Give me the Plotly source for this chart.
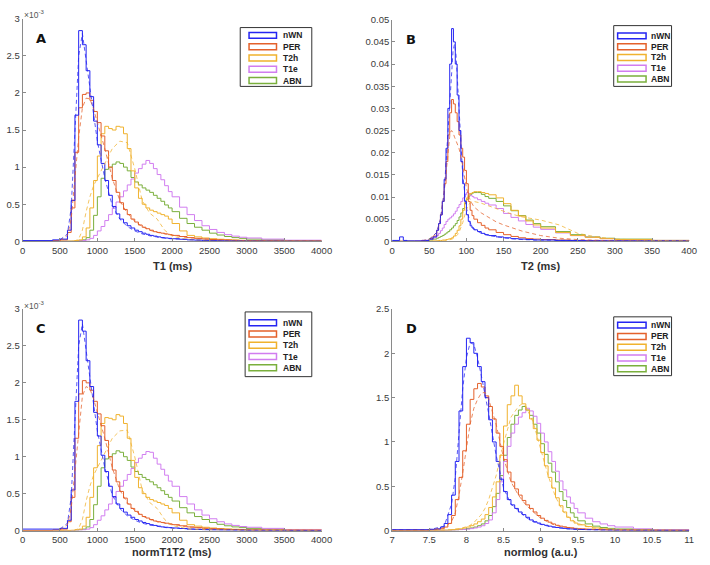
import plotly.graph_objects as go

W, H = 710, 565
SERIES = ["nWN", "PER", "T2h", "T1e", "ABN"]
COLORS = {"nWN": "#2424f2", "PER": "#e4612b", "T2h": "#f0b22e", "T1e": "#d17df0", "ABN": "#7aaf3c"}

# ---------------- Panel A : T1 (ms), density x10^-3 ----------------
t1_bins = [0, 400, 500, 600, 650, 700, 750, 800, 850, 900, 950, 1000, 1050, 1100, 1150, 1200,
           1250, 1300, 1350, 1400, 1450, 1500, 1550, 1600, 1650, 1700, 1750, 1800, 1850, 1900,
           1950, 2000, 2100, 2200, 2300, 2400, 2500, 2600, 2700, 2800, 2900, 3000, 3200, 3500, 4000]
t1_nwn = [0.01, 0.02, 0.03, 0.15, 0.55, 1.7, 2.84, 2.65, 2.3, 1.95, 1.62, 1.3, 1.05, 0.82, 0.62, 0.47,
          0.37, 0.3, 0.25, 0.21, 0.18, 0.15, 0.13, 0.11, 0.095, 0.08, 0.07, 0.06, 0.05, 0.045,
          0.04, 0.035, 0.028, 0.02, 0.016, 0.012, 0.01, 0.008, 0.006, 0.005, 0.004, 0.003, 0.002, 0.001, 0.001]
t1_per = [0.0, 0.01, 0.02, 0.12, 0.45, 1.2, 1.8, 1.98, 2.0, 1.9, 1.75, 1.6, 1.42, 1.22, 1.0, 0.82,
          0.66, 0.52, 0.43, 0.36, 0.3, 0.26, 0.22, 0.19, 0.17, 0.15, 0.13, 0.12, 0.11, 0.1,
          0.09, 0.08, 0.065, 0.05, 0.04, 0.032, 0.025, 0.02, 0.016, 0.013, 0.01, 0.008, 0.006, 0.004, 0.002]
t1_t2h = [0, 0, 0, 0, 0.005, 0.01, 0.02, 0.06, 0.18, 0.45, 0.82, 1.15, 1.45, 1.55, 1.52, 1.5,
          1.55, 1.54, 1.45, 1.25, 0.95, 0.72, 0.58, 0.5, 0.45, 0.42, 0.4, 0.38, 0.36, 0.34,
          0.3, 0.24, 0.14, 0.08, 0.06, 0.045, 0.035, 0.028, 0.022, 0.018, 0.014, 0.01, 0.008, 0.005, 0.003]
t1_t1e = [0, 0, 0, 0, 0, 0.005, 0.008, 0.01, 0.02, 0.04, 0.08, 0.14, 0.2, 0.28, 0.36, 0.45,
          0.53, 0.6, 0.68, 0.76, 0.84, 0.92, 0.98, 1.04, 1.09, 1.05, 0.98, 0.9, 0.83, 0.75,
          0.67, 0.6, 0.46, 0.36, 0.28, 0.21, 0.16, 0.12, 0.09, 0.07, 0.055, 0.045, 0.03, 0.015, 0.005]
t1_abn = [0, 0, 0, 0, 0, 0.005, 0.01, 0.02, 0.05, 0.15, 0.35, 0.6, 0.85, 0.97, 1.0, 1.04,
          1.07, 1.05, 1.0, 0.95, 0.86, 0.8, 0.76, 0.72, 0.69, 0.66, 0.62, 0.58, 0.54, 0.49,
          0.45, 0.4, 0.31, 0.24, 0.19, 0.15, 0.11, 0.085, 0.065, 0.05, 0.04, 0.03, 0.02, 0.01, 0.005]
t1_fit_x = [500, 600, 650, 700, 750, 800, 850, 900, 950, 1000, 1100, 1200, 1300, 1400, 1500, 1600,
            1700, 1800, 1900, 2000, 2200, 2500, 3000, 4000]
t1_nwn_fit = [0.02, 0.1, 0.45, 1.4, 2.5, 2.8, 2.45, 2.05, 1.7, 1.35, 0.85, 0.48, 0.3, 0.2, 0.14, 0.1,
              0.075, 0.055, 0.042, 0.033, 0.02, 0.01, 0.004, 0.001]
t1_per_fit = [0.01, 0.08, 0.3, 0.8, 1.4, 1.8, 1.93, 1.92, 1.78, 1.6, 1.25, 0.85, 0.55, 0.38, 0.27, 0.2,
              0.15, 0.12, 0.1, 0.08, 0.05, 0.025, 0.008, 0.002]
t1_t2h_fit = [0, 0, 0, 0.005, 0.03, 0.15, 0.4, 0.6, 0.75, 0.85, 1.05, 1.25, 1.35, 1.33, 0.98, 0.55,
              0.38, 0.3, 0.15, 0.07, 0.025, 0.01, 0.004, 0.001]

# ---------------- Panel B : T2 (ms) ----------------
t2_bins = [0, 10, 15, 20, 30, 40, 50, 55, 60, 62.5, 65, 67.5, 70, 72.5, 75, 77.5, 80, 82.5, 85,
           87.5, 90, 92.5, 95, 97.5, 100, 102.5, 105, 107.5, 110, 115, 120, 125, 130, 140, 150,
           160, 170, 180, 190, 200, 220, 240, 260, 280, 300, 350, 400]
t2_nwn = [0.0002, 0.001, 0.0002, 0.0001, 0.0001, 0.0002, 0.0005, 0.001, 0.0025,
          0.004, 0.006, 0.009, 0.014, 0.021, 0.03, 0.04, 0.048, 0.045, 0.04,
          0.033, 0.025, 0.018, 0.013, 0.009, 0.006, 0.0045, 0.0035, 0.003, 0.0026,
          0.0022, 0.0018, 0.0015, 0.0013, 0.001, 0.0008, 0.0006, 0.0005, 0.0004, 0.0003, 0.0003,
          0.0002, 0.0002, 0.0001, 0.0001, 0.0001, 0.0001, 0.0001]
t2_per = [0, 0, 0, 0, 0, 0.0002, 0.0006, 0.0012, 0.0025,
          0.004, 0.006, 0.009, 0.013, 0.018, 0.024, 0.029, 0.032, 0.031, 0.029,
          0.027, 0.024, 0.021, 0.019, 0.016, 0.013, 0.009, 0.007, 0.0058, 0.005,
          0.0042, 0.0036, 0.003, 0.0026, 0.002, 0.0015, 0.0011, 0.0008, 0.0006, 0.0005, 0.0004,
          0.0003, 0.0002, 0.0002, 0.0001, 0.0001, 0.0001, 0.0001]
t2_t2h = [0, 0, 0, 0, 0, 0, 0, 0.0001, 0.0001,
          0.0002, 0.0002, 0.0003, 0.0003, 0.0004, 0.0005, 0.0006, 0.0008, 0.0012, 0.0018,
          0.0025, 0.0035, 0.005, 0.007, 0.0088, 0.0098, 0.0105, 0.0108, 0.011, 0.0112,
          0.0112, 0.011, 0.0108, 0.0105, 0.0098, 0.0085, 0.007, 0.0057, 0.0046, 0.0037, 0.003,
          0.002, 0.0013, 0.0009, 0.0006, 0.0004, 0.0002, 0.0001]
t2_t1e = [0, 0, 0, 0, 0.0001, 0.0002, 0.0005, 0.0008, 0.0013,
          0.0018, 0.0024, 0.003, 0.0038, 0.0045, 0.005, 0.0053, 0.0057, 0.0062, 0.0068,
          0.0076, 0.0083, 0.009, 0.0098, 0.0105, 0.011, 0.0108, 0.0104, 0.0101, 0.0098,
          0.0094, 0.009, 0.0086, 0.0082, 0.0074, 0.0063, 0.0054, 0.0046, 0.0038, 0.0032, 0.0027,
          0.0019, 0.0013, 0.0009, 0.0006, 0.0004, 0.0002, 0.0001]
t2_abn = [0, 0, 0, 0, 0, 0.0001, 0.0003, 0.0005, 0.0007,
          0.0009, 0.0011, 0.0013, 0.0016, 0.0019, 0.0022, 0.0026, 0.003, 0.0035, 0.004,
          0.0047, 0.0055, 0.0064, 0.0074, 0.0085, 0.0095, 0.0102, 0.0106, 0.0109, 0.011,
          0.011, 0.0106, 0.0101, 0.0097, 0.009, 0.008, 0.0069, 0.0058, 0.0048, 0.004, 0.0033,
          0.0022, 0.0015, 0.001, 0.0007, 0.0005, 0.0002, 0.0001]
t2_fit_x = [40, 50, 60, 65, 70, 75, 78, 80, 82, 84, 86, 88, 90, 95, 100, 105, 110, 120, 130, 140,
            150, 160, 175, 200, 225, 250, 275, 300, 350, 400]
t2_nwn_fit = [0.0001, 0.0004, 0.002, 0.005, 0.011, 0.024, 0.033, 0.039, 0.043, 0.0445,
              0.042, 0.036, 0.029, 0.015, 0.0075, 0.0042, 0.0028, 0.0018, 0.0013, 0.001,
              0.0008, 0.0006, 0.0004, 0.0003, 0.0002, 0.0001, 0.0001, 0.0001, 0, 0]
t2_per_fit = [0.0001, 0.0005, 0.002, 0.005, 0.011, 0.02, 0.0245, 0.025, 0.0245, 0.0235,
              0.0225, 0.022, 0.021, 0.017, 0.012, 0.0093, 0.0078, 0.0064, 0.0053, 0.0044,
              0.0037, 0.0031, 0.0023, 0.0013, 0.0007, 0.0004, 0.0002, 0.0001, 0, 0]
t2_t2h_fit = [0, 0, 0, 0, 0.0001, 0.0002, 0.0003, 0.0004, 0.0006, 0.0008,
              0.0011, 0.0015, 0.002, 0.0042, 0.0072, 0.0088, 0.009, 0.0086, 0.008, 0.0074,
              0.0068, 0.0062, 0.0055, 0.0048, 0.0037, 0.0018, 0.001, 0.0005, 0.0002, 0.0001]

# ---------------- Panel C : normT1T2 (ms), density x10^-3 ----------------
nt_bins = t1_bins
nt_nwn = [0.02, 0.02, 0.03, 0.14, 0.55, 1.75, 2.85, 2.7, 2.3, 1.95, 1.6, 1.28, 1.02, 0.8, 0.6, 0.46,
          0.36, 0.3, 0.25, 0.21, 0.18, 0.15, 0.13, 0.11, 0.095, 0.08, 0.07, 0.06, 0.05, 0.045,
          0.04, 0.035, 0.028, 0.02, 0.016, 0.012, 0.01, 0.008, 0.006, 0.005, 0.004, 0.003, 0.002, 0.001, 0.001]
nt_per = [0.0, 0.01, 0.02, 0.12, 0.45, 1.25, 1.85, 2.03, 2.0, 1.9, 1.75, 1.58, 1.42, 1.22, 1.0, 0.82,
          0.66, 0.53, 0.44, 0.36, 0.3, 0.26, 0.22, 0.19, 0.17, 0.15, 0.13, 0.12, 0.11, 0.1,
          0.09, 0.08, 0.065, 0.05, 0.04, 0.032, 0.025, 0.02, 0.016, 0.013, 0.01, 0.008, 0.006, 0.004, 0.002]
nt_t2h = [0, 0, 0, 0, 0.005, 0.01, 0.02, 0.06, 0.18, 0.45, 0.85, 1.15, 1.45, 1.53, 1.52, 1.5,
          1.57, 1.55, 1.45, 1.25, 0.95, 0.72, 0.58, 0.5, 0.45, 0.42, 0.4, 0.38, 0.36, 0.34,
          0.3, 0.24, 0.14, 0.08, 0.06, 0.045, 0.035, 0.028, 0.022, 0.018, 0.014, 0.01, 0.008, 0.005, 0.003]
nt_t1e = [0, 0, 0, 0, 0, 0.005, 0.008, 0.01, 0.02, 0.04, 0.08, 0.14, 0.2, 0.28, 0.36, 0.45,
          0.53, 0.6, 0.68, 0.76, 0.84, 0.92, 0.98, 1.03, 1.07, 1.06, 0.98, 0.9, 0.83, 0.75,
          0.67, 0.6, 0.46, 0.36, 0.28, 0.21, 0.16, 0.12, 0.09, 0.07, 0.055, 0.045, 0.03, 0.015, 0.005]
nt_abn = [0, 0, 0, 0, 0, 0.005, 0.01, 0.02, 0.05, 0.15, 0.35, 0.6, 0.85, 0.97, 1.0, 1.04,
          1.08, 1.06, 1.0, 0.95, 0.86, 0.8, 0.76, 0.72, 0.69, 0.66, 0.62, 0.58, 0.54, 0.49,
          0.45, 0.4, 0.31, 0.24, 0.19, 0.15, 0.11, 0.085, 0.065, 0.05, 0.04, 0.03, 0.02, 0.01, 0.005]
nt_fit_x = t1_fit_x
nt_nwn_fit = [0.02, 0.1, 0.45, 1.4, 2.5, 2.8, 2.45, 2.05, 1.7, 1.35, 0.85, 0.48, 0.3, 0.2, 0.14, 0.1,
              0.075, 0.055, 0.042, 0.033, 0.02, 0.01, 0.004, 0.001]
nt_per_fit = [0.01, 0.08, 0.3, 0.8, 1.4, 1.82, 1.95, 1.92, 1.78, 1.6, 1.25, 0.85, 0.55, 0.38, 0.27, 0.2,
              0.15, 0.12, 0.1, 0.08, 0.05, 0.025, 0.008, 0.002]
nt_t2h_fit = [0, 0, 0, 0.005, 0.03, 0.15, 0.4, 0.6, 0.75, 0.85, 1.05, 1.25, 1.35, 1.36, 1.0, 0.55,
              0.38, 0.3, 0.15, 0.07, 0.025, 0.01, 0.004, 0.001]

# ---------------- Panel D : normlog (a.u.) ----------------
nl_bins = [7.0, 7.5, 7.6, 7.65, 7.7, 7.75, 7.8, 7.85, 7.9, 7.95, 8.0, 8.05, 8.1, 8.15, 8.2, 8.25,
           8.3, 8.35, 8.4, 8.45, 8.5, 8.55, 8.6, 8.65, 8.7, 8.75, 8.8, 8.85, 8.9, 8.95, 9.0, 9.05,
           9.1, 9.15, 9.2, 9.25, 9.3, 9.35, 9.4, 9.45, 9.5, 9.6, 9.7, 9.8, 9.9, 10.0, 10.25, 10.5, 11.0]
nl_nwn = [0.01, 0.015, 0.02,
          0.04, 0.08, 0.18, 0.4, 0.78, 1.35, 1.85, 2.17, 2.12, 2.0,
          1.85, 1.68, 1.5, 1.25, 1.0, 0.78, 0.58, 0.44, 0.35, 0.29,
          0.25, 0.21, 0.18, 0.15, 0.12, 0.1, 0.085, 0.07, 0.06, 0.05,
          0.04, 0.035, 0.03, 0.025, 0.02, 0.018, 0.015, 0.012,
          0.01, 0.008, 0.006, 0.005, 0.004, 0.003, 0.002, 0.001]
nl_per = [0.005, 0.01, 0.015,
          0.02, 0.04, 0.08, 0.17, 0.35, 0.6, 0.9, 1.2, 1.48, 1.6,
          1.66, 1.62, 1.52, 1.4, 1.26, 1.1, 0.95, 0.8, 0.66, 0.55,
          0.47, 0.4, 0.34, 0.29, 0.25, 0.21, 0.17, 0.14, 0.115, 0.095,
          0.075, 0.06, 0.05, 0.042, 0.035, 0.03, 0.025, 0.02,
          0.016, 0.012, 0.009, 0.007, 0.005, 0.003, 0.002, 0.001]
nl_t2h = [0, 0, 0,
          0.002, 0.004, 0.006, 0.01, 0.015, 0.02, 0.03, 0.04, 0.055, 0.075,
          0.1, 0.13, 0.18, 0.26, 0.38, 0.55, 0.85, 1.18, 1.42, 1.52,
          1.64, 1.52, 1.43, 1.36, 1.26, 1.15, 1.02, 0.88, 0.73, 0.6,
          0.48, 0.37, 0.28, 0.21, 0.15, 0.11, 0.085, 0.065,
          0.045, 0.03, 0.02, 0.015, 0.01, 0.006, 0.003, 0.001]
nl_t1e = [0, 0, 0,
          0, 0.002, 0.003, 0.005, 0.007, 0.01, 0.013, 0.017, 0.022, 0.03,
          0.04, 0.055, 0.08, 0.12, 0.2, 0.35, 0.55, 0.78, 0.95, 1.1,
          1.2, 1.28, 1.33, 1.38, 1.35, 1.29, 1.21, 1.1, 1.0, 0.89,
          0.78, 0.67, 0.56, 0.46, 0.38, 0.31, 0.25, 0.2,
          0.14, 0.1, 0.075, 0.055, 0.04, 0.02, 0.01, 0.003]
nl_abn = [0, 0, 0,
          0.002, 0.003, 0.004, 0.006, 0.008, 0.012, 0.016, 0.022, 0.03, 0.04,
          0.055, 0.075, 0.11, 0.17, 0.27, 0.42, 0.62, 0.85, 1.05, 1.2,
          1.3, 1.36, 1.4, 1.36, 1.3, 1.2, 1.1, 0.98, 0.86, 0.76,
          0.66, 0.55, 0.44, 0.34, 0.26, 0.2, 0.15, 0.11,
          0.075, 0.05, 0.035, 0.025, 0.018, 0.01, 0.005, 0.002]
nl_fit_x = [7.0, 7.5, 7.7, 7.8, 7.85, 7.9, 7.95, 8.0, 8.05, 8.1, 8.15, 8.2, 8.25, 8.3, 8.4, 8.5,
            8.6, 8.7, 8.75, 8.8, 8.9, 9.0, 9.1, 9.2, 9.3, 9.4, 9.5, 9.7, 10.0, 11.0]
nl_nwn_fit = [0.01, 0.01, 0.05, 0.3, 0.6, 1.1, 1.6, 1.95, 2.12, 2.1, 1.95, 1.75, 1.55, 1.32, 0.85, 0.48,
              0.3, 0.22, 0.18, 0.15, 0.1, 0.07, 0.05, 0.035, 0.025, 0.018, 0.012, 0.007, 0.004, 0.001]
nl_per_fit = [0.005, 0.01, 0.03, 0.1, 0.2, 0.4, 0.65, 0.95, 1.2, 1.38, 1.48, 1.55, 1.56, 1.48, 1.2, 0.82,
              0.55, 0.4, 0.34, 0.29, 0.21, 0.14, 0.095, 0.06, 0.042, 0.03, 0.02, 0.012, 0.005, 0.001]
nl_t2h_fit = [0, 0, 0.005, 0.01, 0.015, 0.02, 0.03, 0.045, 0.06, 0.09, 0.13, 0.18, 0.25, 0.35, 0.62, 0.98,
              1.28, 1.4, 1.43, 1.4, 1.22, 0.92, 0.62, 0.38, 0.22, 0.13, 0.08, 0.03, 0.01, 0.001]

# ---------------- axis / tick definitions ----------------
t1_ticks = [0, 500, 1000, 1500, 2000, 2500, 3000, 3500, 4000]
t2_ticks = [0, 50, 100, 150, 200, 250, 300, 350, 400]
nl_ticks = [7, 7.5, 8, 8.5, 9, 9.5, 10, 10.5, 11]
e3_ticks = [0, 0.5, 1, 1.5, 2, 2.5, 3]
t2_yticks = [0, 0.005, 0.01, 0.015, 0.02, 0.025, 0.03, 0.035, 0.04, 0.045, 0.05]
nl_yticks = [0, 0.5, 1, 1.5, 2, 2.5]

panels = [
    dict(letter="A", title="T1 (ms)", bins=t1_bins, solid=[t1_nwn, t1_per, t1_t2h, t1_t1e, t1_abn],
         fit_x=t1_fit_x, fits=[t1_nwn_fit, t1_per_fit, t1_t2h_fit], xr=[0, 4000], yr=[0, 3],
         xt=t1_ticks, yt=e3_ticks, px=(20, 325), py=(13, 240), exp=True, tgap=25,
         leg=dict(box=(242, 22, 315, 82), ix=(251, 279), tx=284, rows=[30, 41.5, 53, 64.5, 76])),
    dict(letter="B", title="T2 (ms)", bins=t2_bins, solid=[t2_nwn, t2_per, t2_t2h, t2_t1e, t2_abn],
         fit_x=t2_fit_x, fits=[t2_nwn_fit, t2_per_fit, t2_t2h_fit], xr=[0, 400], yr=[0, 0.05],
         xt=t2_ticks, yt=t2_yticks, px=(397, 700), py=(14, 240), exp=False, tgap=25,
         leg=dict(box=(623, 20, 682, 82), ix=(627, 656), tx=659, rows=[30.5, 41.5, 52.5, 63.5, 74.5])),
    dict(letter="C", title="normT1T2 (ms)", bins=nt_bins, solid=[nt_nwn, nt_per, nt_t2h, nt_t1e, nt_abn],
         fit_x=nt_fit_x, fits=[nt_nwn_fit, nt_per_fit, nt_t2h_fit], xr=[0, 4000], yr=[0, 3],
         xt=t1_ticks, yt=e3_ticks, px=(20, 325), py=(309, 535), exp=True, tgap=22,
         leg=dict(box=(247, 312, 315, 378), ix=(251, 279), tx=284, rows=[323, 334.5, 346, 357.5, 369])),
    dict(letter="D", title="normlog (a.u.)", bins=nl_bins, solid=[nl_nwn, nl_per, nl_t2h, nl_t1e, nl_abn],
         fit_x=nl_fit_x, fits=[nl_nwn_fit, nl_per_fit, nl_t2h_fit], xr=[7, 11], yr=[0, 2.5],
         xt=nl_ticks, yt=nl_yticks, px=(397, 700), py=(309, 535), exp=False, tgap=22,
         leg=dict(box=(623, 317, 682, 377), ix=(627, 656), tx=659, rows=[325.5, 337, 348, 359, 370])),
]


def fx(x):
    return x / W


def fy(y):
    return 1 - y / H


fig = go.Figure()
shapes, annotations = [], []
AXC = "#8a8a8a"
TXC = "#3a3a3a"
FONT = "Liberation Sans"

for i, p in enumerate(panels):
    n = "" if i == 0 else str(i + 1)
    xa, ya = "x" + n, "y" + n
    for k in [4, 3, 2, 1, 0]:
        s = SERIES[k]
        fig.add_trace(go.Scatter(x=p["bins"], y=p["solid"][k], mode="lines", line_shape="hv",
                                 line=dict(color=COLORS[s], width=1.0), xaxis=xa, yaxis=ya,
                                 showlegend=False, hoverinfo="skip"))
    for k in [2, 1, 0]:
        s = SERIES[k]
        fig.add_trace(go.Scatter(x=p["fit_x"], y=p["fits"][k], mode="lines",
                                 line=dict(color=COLORS[s], width=1.0, dash="4px,3px"),
                                 opacity=0.75, xaxis=xa, yaxis=ya, showlegend=False, hoverinfo="skip"))
    axx = dict(domain=[fx(p["px"][0]), fx(p["px"][1])], range=p["xr"], anchor=ya,
               showline=True, linecolor=AXC, linewidth=1, ticks="inside", ticklen=3,
               tickcolor=AXC, tickvals=p["xt"], tickfont=dict(family=FONT, size=9.5, color=TXC),
               showgrid=False, zeroline=False)
    axy = dict(domain=[fy(p["py"][1]), fy(p["py"][0])], range=p["yr"], anchor=xa,
               showline=True, linecolor=AXC, linewidth=1, ticks="inside", ticklen=3,
               tickcolor=AXC, tickvals=p["yt"], tickfont=dict(family=FONT, size=9.5, color=TXC),
               showgrid=False, zeroline=False)
    fig.layout["xaxis" + n] = axx
    fig.layout["yaxis" + n] = axy

    cx = (p["px"][0] + p["px"][1]) / 2
    ty = p["py"][1] + p["tgap"]
    annotations.append(dict(text="<b>" + p["title"] + "</b>", x=fx(cx), y=fy(ty), xref="paper", yref="paper",
                            showarrow=False, xanchor="center", yanchor="middle",
                            font=dict(family=FONT, size=11, color="#303030")))
    annotations.append(dict(text="<b>" + p["letter"] + "</b>", x=fx(p["px"][0] + 12), y=fy(p["py"][0] + 20),
                            xref="paper", yref="paper", showarrow=False, xanchor="left", yanchor="middle",
                            font=dict(family="DejaVu Sans", size=13, color="#111111")))
    if p["exp"]:
        annotations.append(dict(text="×10<sup>-3</sup>", x=fx(p["px"][0] - 1), y=fy(p["py"][0] - 4),
                                xref="paper", yref="paper", showarrow=False, xanchor="left", yanchor="middle",
                                font=dict(family=FONT, size=8.5, color="#555555")))
    lg = p["leg"]
    b = lg["box"]
    shapes.append(dict(type="rect", xref="paper", yref="paper", x0=fx(b[0]), x1=fx(b[2]),
                       y0=fy(b[3]), y1=fy(b[1]), line=dict(color="#333333", width=1), fillcolor="white",
                       layer="above"))
    for k, s in enumerate(SERIES):
        ry = lg["rows"][k]
        shapes.append(dict(type="rect", xref="paper", yref="paper", x0=fx(lg["ix"][0]), x1=fx(lg["ix"][1]),
                           y0=fy(ry + 3), y1=fy(ry - 3), line=dict(color=COLORS[s], width=1.5),
                           fillcolor="rgba(0,0,0,0)", layer="above"))
        annotations.append(dict(text="<b>" + s + "</b>", x=fx(lg["tx"]), y=fy(ry), xref="paper", yref="paper",
                                showarrow=False, xanchor="left", yanchor="middle",
                                font=dict(family=FONT, size=8.5, color="#222222")))

fig.update_layout(width=W, height=H, margin=dict(l=0, r=0, t=0, b=0),
                  paper_bgcolor="white", plot_bgcolor="white", showlegend=False,
                  hovermode=False, shapes=shapes, annotations=annotations)
fig.write_html("out.html", config={"displayModeBar": False, "staticPlot": True},
               post_script="document.body.style.margin='0';document.body.style.overflow='hidden';")
